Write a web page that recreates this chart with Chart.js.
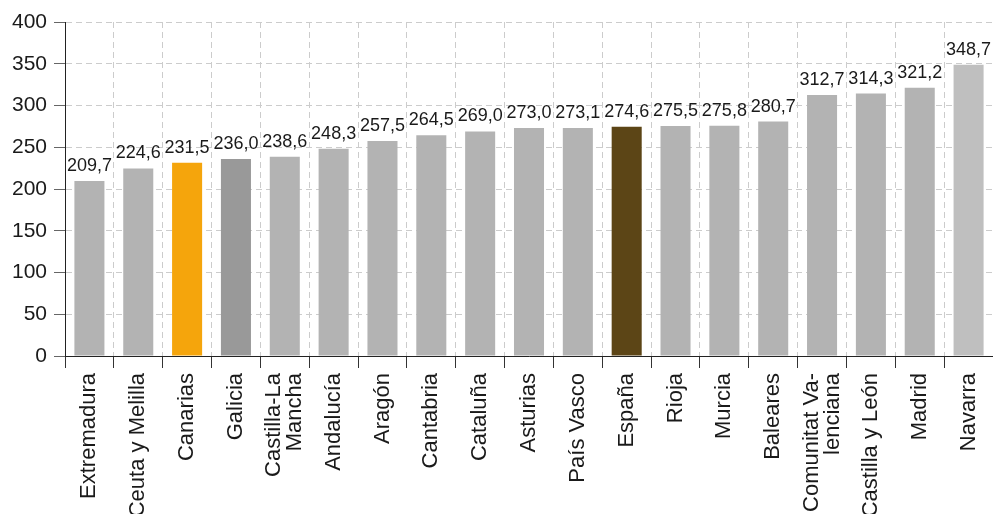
<!DOCTYPE html>
<html>
<head>
<meta charset="utf-8">
<script src="https://cdn.jsdelivr.net/npm/chart.js"></script>
<style>
  body { margin: 0; background: #fff; }
  #wrap { width: 993px; height: 514px; }
</style>
</head>
<body>
<div id="wrap"><canvas id="chart" width="993" height="514"></canvas></div>
<script>
const regions = [
  "Extremadura", "Ceuta y Melilla", "Canarias", "Galicia", ["Castilla-La", "Mancha"],
  "Andalucía", "Aragón", "Cantabria", "Cataluña", "Asturias", "País Vasco",
  "España", "Rioja", "Murcia", "Baleares", ["Comunitat Va-", "lenciana"],
  "Castilla y León", "Madrid", "Navarra"
];
const values = [
  209.7, 224.6, 231.5, 236.0, 238.6, 248.3, 257.5, 264.5, 269.0, 273.0,
  273.1, 274.6, 275.5, 275.8, 280.7, 312.7, 314.3, 321.2, 348.7
];
const barColors = [
  "#b3b3b3", "#b3b3b3", "#f5a50c", "#999999", "#b3b3b3", "#b3b3b3", "#b3b3b3",
  "#b3b3b3", "#b3b3b3", "#b3b3b3", "#b3b3b3", "#5c4516", "#b3b3b3", "#b3b3b3",
  "#b3b3b3", "#b3b3b3", "#b3b3b3", "#b3b3b3", "#bfbfbf"
];

const font = '"Liberation Sans", Arial, sans-serif';
const xFontSize = 22;
const xLineHeight = 0.95;

// numbers over each bar, spanish decimal comma
const valueLabels = {
  id: "valueLabels",
  afterDatasetsDraw(chart) {
    const ctx = chart.ctx;
    const meta = chart.getDatasetMeta(0);
    ctx.save();
    ctx.font = "18px " + font;
    ctx.fillStyle = "#1a1a1a";
    ctx.textAlign = "center";
    ctx.textBaseline = "alphabetic";
    meta.data.forEach((bar, i) => {
      ctx.fillText(values[i].toFixed(1).replace(".", ","), bar.x, bar.y - 10);
    });
    ctx.restore();
  }
};

// rotated two-line labels: centre the block on the tick
const centerMultiline = {
  id: "centerMultiline",
  beforeDraw(chart) {
    const scale = chart.scales.x;
    const items = scale.getLabelItems();
    items.forEach((item) => {
      if (Array.isArray(item.label) && !item._moved) {
        const shift = (item.label.length - 1) * xFontSize * xLineHeight / 2;
        item.options.translation[0] -= shift;
        item._moved = true;
      }
    });
  }
};

new Chart(document.getElementById("chart"), {
  type: "bar",
  data: {
    labels: regions,
    datasets: [{
      data: values,
      backgroundColor: barColors,
      borderWidth: 0,
      barPercentage: 0.615,
      categoryPercentage: 1
    }]
  },
  options: {
    responsive: false,
    animation: false,
    events: [],
    layout: { padding: { top: 22, right: 0, left: 0, bottom: 0 } },
    plugins: { legend: { display: false }, tooltip: { enabled: false } },
    scales: {
      x: {
        grid: {
          color: "#cccccc",
          offset: true,
          tickLength: 12,
          tickColor: "#333333",
          tickBorderDash: []
        },
        border: { color: "#222222", dash: [6, 4] },
        ticks: {
          color: "#1a1a1a",
          font: { family: font, size: xFontSize, lineHeight: xLineHeight },
          maxRotation: 90,
          minRotation: 90,
          autoSkip: false,
          padding: 5
        },
        afterFit(scale) {
          scale.height = 158;
          scale.paddingLeft = 0;
          scale.paddingRight = 0;
        }
      },
      y: {
        min: 0,
        max: 400,
        grid: {
          color: "#cccccc",
          tickLength: 11,
          tickColor: "#666666",
          tickBorderDash: []
        },
        border: { color: "#222222", dash: [6, 4] },
        ticks: {
          stepSize: 50,
          color: "#1a1a1a",
          font: { family: font, size: 21 },
          padding: 7
        },
        afterFit(scale) {
          scale.width = 65;
          scale.paddingTop = 0;
          scale.paddingBottom = 0;
        }
      }
    }
  },
  plugins: [valueLabels, centerMultiline]
});
</script>
</body>
</html>
